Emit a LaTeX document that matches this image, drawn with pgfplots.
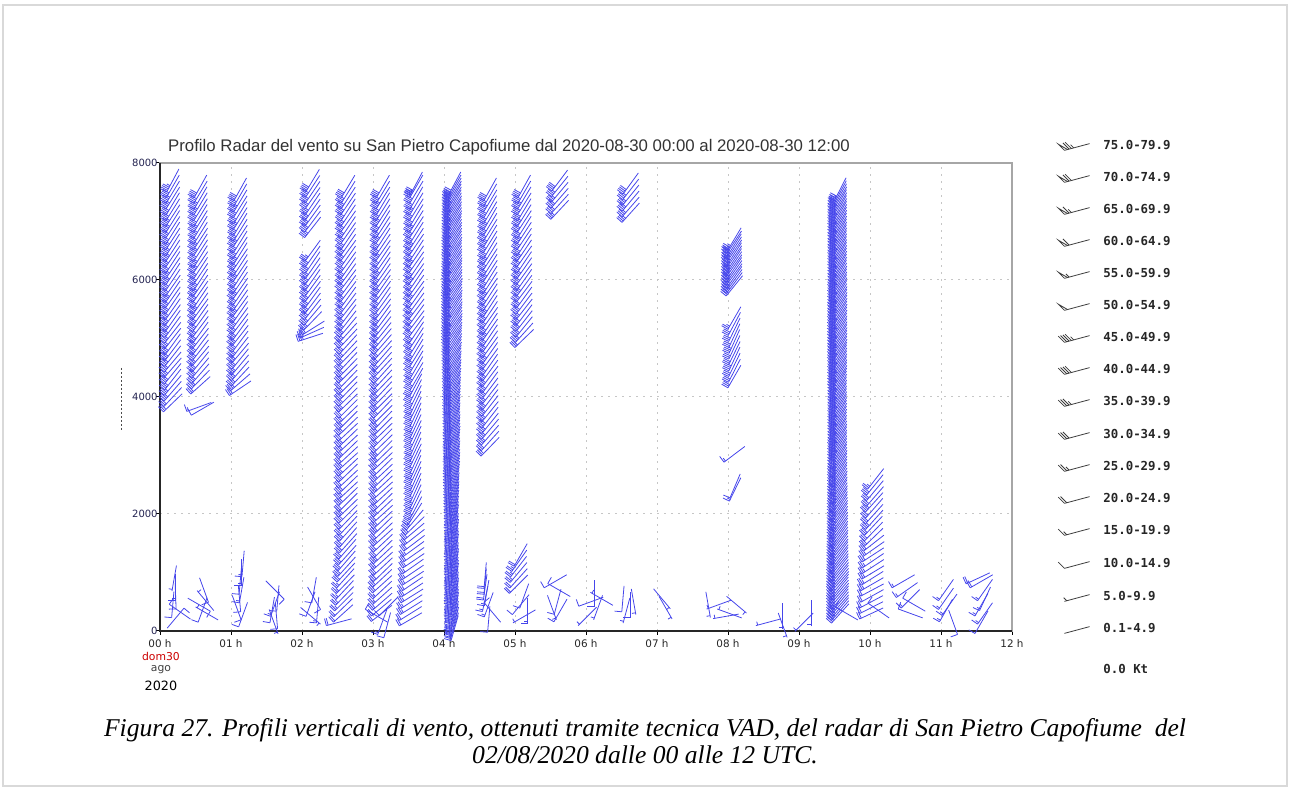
\documentclass[border=0pt]{standalone}
\usepackage{fontspec}
\setmainfont{DejaVu Sans}
\newfontfamily\titlefont{Liberation Sans}
\newfontfamily\capfont{Liberation Serif}
\newfontfamily\legfont{DejaVu Sans Mono}
\newfontfamily\tickfont{DejaVu Sans}
\usepackage{pgfplots}
\usepackage{pgfplotstable}
\pgfplotsset{compat=1.18}

\definecolor{barbblue}{RGB}{70,70,235}
\definecolor{leggray}{RGB}{60,60,60}
\definecolor{navytick}{RGB}{35,35,80}

% wind barb: \bdir = direction (deg, from), \bspd = speed (kt)
% #1 colour, #2 feather length (pt), #3 feather angle to staff, #4 feather spacing (pt)
\newcommand\drawbarb[4]{%
  \pgfscope
  \pgfsetstrokecolor{#1}%
  \pgfsetlinewidth{0.4pt}%
  \pgfmathsetmacro\bth{270-\bdir}%
  \pgftransformrotate{\bth}%
  \pgfmathsetmacro\bfx{#2*cos(#3)}%
  \pgfmathsetmacro\bfy{#2*sin(#3)}%
  \pgfmathtruncatemacro\bh{\bspd/5}%
  \pgfmathtruncatemacro\bnp{\bh/10}%
  \pgfmathtruncatemacro\bnf{(\bh-10*\bnp)/2}%
  \pgfmathtruncatemacro\bnh{\bh-10*\bnp-2*\bnf}%
  \pgfpathmoveto{\pgfqpoint{-6.5pt}{0pt}}%
  \pgfpathlineto{\pgfqpoint{6.5pt}{0pt}}%
  \pgfusepathqstroke
  \ifnum\bnp>0
    \foreach \k in {1,...,\bnp}{%
      \pgfmathsetmacro\bp{-6.5+(\k-1)*2*#4}%
      \pgfpathmoveto{\pgfpoint{\bp pt}{0pt}}%
      \pgfpathlineto{\pgfpoint{\bp pt+\bfx pt}{\bfy pt}}%
      \pgfpathlineto{\pgfpoint{\bp pt+1.6pt}{0pt}}%
      \pgfusepathqstroke}%
  \fi
  \ifnum\bnf>0
    \foreach \k in {1,...,\bnf}{%
      \pgfmathsetmacro\bp{-6.5+\bnp*2*#4+(\k-1)*#4}%
      \pgfpathmoveto{\pgfpoint{\bp pt}{0pt}}%
      \pgfpathlineto{\pgfpoint{\bp pt+\bfx pt}{\bfy pt}}%
      \pgfusepathqstroke}%
  \fi
  \ifnum\bnh>0
    \pgfmathsetmacro\bp{-6.5+\bnp*2*#4+\bnf*#4+((\bnp+\bnf)==0 ? #4 : 0)}%
    \pgfpathmoveto{\pgfpoint{\bp pt}{0pt}}%
    \pgfpathlineto{\pgfpoint{\bp pt+0.5*\bfx pt}{0.5*\bfy pt}}%
    \pgfusepathqstroke
  \fi
  \endpgfscope}
\pgfdeclareplotmark{barb}{\drawbarb{barbblue}{3.6}{90}{0.9}}
\pgfdeclareplotmark{lbarb}{\drawbarb{leggray}{4.4}{120}{1.2}}

\pgfplotsset{barbs/.style={only marks, scatter, mark=barb, point meta=y,
  visualization depends on={\thisrow{d}\as\bdir},
  visualization depends on={\thisrow{s}\as\bspd},
  scatter/@pre marker code/.code={}, scatter/@post marker code/.code={}}}

% columns: x [h]  y [m]  d [deg]  s [kt]
\pgfplotstableread[row sep=\\]{x y d s\\
0.18 3900 226 30\\ 0.18 4000 223 30\\ 0.18 4100 221 35\\ 0.18 4200 220 35\\ 0.18 4300 218 35\\ 0.18 4400 219 40\\
0.18 4500 221 35\\ 0.18 4600 220 35\\ 0.18 4700 218 40\\ 0.18 4800 217 40\\ 0.18 4900 216 40\\ 0.18 5000 218 35\\
0.18 5100 218 35\\ 0.18 5200 216 40\\ 0.18 5300 215 40\\ 0.18 5400 216 40\\ 0.18 5500 215 40\\ 0.18 5600 214 40\\
0.18 5700 215 40\\ 0.18 5800 214 45\\ 0.18 5900 215 40\\ 0.18 6000 214 40\\ 0.18 6100 213 45\\ 0.18 6200 214 45\\
0.18 6300 213 40\\ 0.18 6400 214 40\\ 0.18 6500 213 45\\ 0.18 6600 212 45\\ 0.18 6700 213 45\\ 0.18 6800 212 40\\
0.18 6900 213 40\\ 0.18 7000 212 45\\ 0.18 7100 213 45\\ 0.18 7200 212 40\\ 0.18 7300 211 40\\ 0.18 7400 212 45\\
0.18 7500 211 45\\ 0.18 7600 210 40\\ 0.18 7700 208 45\\
}\colA
\pgfplotstableread[row sep=\\]{x y d s\\
0.57 4200 228 30\\ 0.57 4300 224 35\\ 0.57 4400 221 35\\ 0.57 4500 220 40\\ 0.57 4600 219 40\\ 0.57 4700 220 35\\
0.57 4800 218 40\\ 0.57 4900 217 40\\ 0.57 5000 218 40\\ 0.57 5100 216 40\\ 0.57 5200 217 35\\ 0.57 5300 216 40\\
0.57 5400 215 40\\ 0.57 5500 216 40\\ 0.57 5600 215 45\\ 0.57 5700 214 40\\ 0.57 5800 215 40\\ 0.57 5900 214 45\\
0.57 6000 213 45\\ 0.57 6100 214 40\\ 0.57 6200 213 40\\ 0.57 6300 214 45\\ 0.57 6400 212 45\\ 0.57 6500 213 40\\
0.57 6600 212 45\\ 0.57 6700 213 45\\ 0.57 6800 212 40\\ 0.57 6900 211 45\\ 0.57 7000 212 45\\ 0.57 7100 211 40\\
0.57 7200 212 40\\ 0.57 7300 211 45\\ 0.57 7400 210 45\\ 0.57 7500 211 40\\ 0.57 7600 209 40\\
0.55 3830 250 15\\ 0.60 3800 240 10\\
}\colB
\pgfplotstableread[row sep=\\]{x y d s\\
1.13 4150 236 30\\ 1.13 4250 229 35\\ 1.13 4350 223 35\\ 1.13 4450 221 40\\ 1.13 4550 220 35\\ 1.13 4650 219 40\\
1.13 4750 220 40\\ 1.13 4850 218 35\\ 1.13 4950 217 40\\ 1.13 5050 218 40\\ 1.13 5150 216 40\\ 1.13 5250 217 35\\
1.13 5350 216 40\\ 1.13 5450 215 40\\ 1.13 5550 216 45\\ 1.13 5650 215 40\\ 1.13 5750 214 40\\ 1.13 5850 215 45\\
1.13 5950 214 40\\ 1.13 6050 213 40\\ 1.13 6150 214 45\\ 1.13 6250 213 40\\ 1.13 6350 214 40\\ 1.13 6450 212 45\\
1.13 6550 213 40\\ 1.13 6650 212 40\\ 1.13 6750 213 45\\ 1.13 6850 212 40\\ 1.13 6950 211 40\\ 1.13 7050 212 45\\
1.13 7150 211 40\\ 1.13 7250 212 40\\ 1.13 7350 211 45\\ 1.13 7450 210 40\\ 1.13 7550 209 40\\
}\colC
\pgfplotstableread[row sep=\\]{x y d s\\
2.12 5020 252 35\\ 2.14 5100 246 30\\ 2.16 5180 238 30\\
2.15 5300 224 35\\ 2.15 5400 220 35\\ 2.15 5500 218 40\\ 2.15 5600 217 40\\ 2.15 5700 216 40\\ 2.15 5800 217 35\\
2.15 5900 216 40\\ 2.15 6000 215 40\\ 2.15 6100 216 40\\ 2.15 6200 215 35\\ 2.15 6300 214 40\\ 2.15 6400 215 40\\
2.15 6500 216 35\\
2.15 6900 218 35\\ 2.15 7000 217 40\\ 2.15 7100 216 40\\ 2.15 7200 215 40\\ 2.15 7300 214 35\\ 2.15 7400 215 40\\
2.15 7500 214 40\\ 2.15 7600 213 40\\ 2.15 7700 211 40\\
}\colD
\pgfplotstableread[row sep=\\]{x y d s\\
2.52 150 255 20\\
2.58 300 228 20\\ 2.58 400 226 20\\ 2.59 500 225 25\\ 2.60 600 224 25\\ 2.60 700 223 25\\ 2.61 800 224 25\\
2.61 900 222 25\\ 2.62 1000 223 30\\ 2.63 1100 222 30\\ 2.63 1200 221 30\\ 2.64 1300 222 30\\ 2.64 1400 221 30\\
2.65 1500 222 30\\ 2.65 1600 221 30\\ 2.65 1700 222 35\\ 2.65 1800 223 30\\ 2.65 1900 224 30\\ 2.65 2000 225 35\\
2.65 2100 226 35\\ 2.65 2200 225 30\\ 2.65 2300 226 35\\ 2.65 2400 227 35\\ 2.65 2500 226 35\\ 2.65 2600 227 30\\
2.65 2700 226 35\\ 2.65 2800 227 35\\ 2.65 2900 228 35\\ 2.65 3000 227 30\\ 2.65 3100 226 35\\ 2.65 3200 227 35\\
2.65 3300 226 35\\ 2.65 3400 227 30\\ 2.65 3500 226 35\\ 2.65 3600 225 35\\ 2.65 3700 226 35\\ 2.65 3800 225 30\\
2.65 3900 226 35\\ 2.65 4000 225 35\\ 2.65 4100 224 35\\ 2.65 4200 225 35\\ 2.65 4300 224 30\\ 2.65 4400 225 35\\
2.65 4500 224 35\\ 2.65 4600 223 35\\ 2.65 4700 224 35\\ 2.65 4800 223 35\\ 2.65 4900 222 35\\ 2.65 5000 223 40\\
2.65 5100 222 35\\ 2.65 5200 220 40\\ 2.65 5300 218 40\\ 2.65 5400 217 40\\ 2.65 5500 218 35\\ 2.65 5600 217 40\\
2.65 5700 216 40\\ 2.65 5800 217 40\\ 2.65 5900 216 35\\ 2.65 6000 217 40\\ 2.65 6100 216 40\\ 2.65 6200 215 40\\
2.65 6300 216 35\\ 2.65 6400 215 40\\ 2.65 6500 216 40\\ 2.65 6600 215 40\\ 2.65 6700 214 35\\ 2.65 6800 215 40\\
2.65 6900 214 40\\ 2.65 7000 215 40\\ 2.65 7100 214 35\\ 2.65 7200 213 40\\ 2.65 7300 214 40\\ 2.65 7400 213 40\\
2.65 7500 212 35\\ 2.65 7600 211 40\\
}\colE
\pgfplotstableread[row sep=\\]{x y d s\\
3.05 260 300 10\\ 3.13 150 200 15\\ 3.20 100 195 10\\ 3.22 420 225 10\\
3.12 300 232 20\\ 3.12 400 230 20\\ 3.13 500 229 25\\ 3.13 600 228 25\\ 3.13 700 227 25\\ 3.13 800 228 30\\
3.13 900 227 30\\ 3.14 1000 226 30\\ 3.14 1100 227 30\\ 3.14 1200 228 30\\ 3.14 1300 227 35\\ 3.14 1400 226 30\\
3.14 1500 227 30\\ 3.14 1600 228 35\\ 3.14 1700 227 30\\ 3.14 1800 226 35\\ 3.14 1900 227 35\\ 3.14 2000 228 30\\
3.14 2100 227 35\\ 3.14 2200 226 35\\ 3.14 2300 227 35\\ 3.14 2400 228 30\\ 3.14 2500 227 35\\ 3.14 2600 226 35\\
3.14 2700 227 35\\ 3.14 2800 226 30\\ 3.14 2900 227 35\\ 3.14 3000 226 35\\ 3.14 3100 225 35\\ 3.14 3200 226 30\\
3.14 3300 225 35\\ 3.14 3400 226 35\\ 3.14 3500 225 35\\ 3.14 3600 224 35\\ 3.14 3700 225 30\\ 3.14 3800 224 35\\
3.14 3900 225 35\\ 3.14 4000 224 35\\ 3.14 4100 223 35\\ 3.14 4200 224 35\\ 3.14 4300 223 35\\ 3.14 4400 222 35\\
3.14 4500 223 40\\ 3.14 4600 222 35\\ 3.14 4700 221 40\\ 3.14 4800 222 35\\ 3.14 4900 221 40\\ 3.14 5000 220 40\\
3.14 5100 219 40\\ 3.14 5200 218 40\\ 3.14 5300 217 40\\ 3.14 5400 216 40\\ 3.14 5500 217 35\\ 3.14 5600 216 40\\
3.14 5700 215 40\\ 3.14 5800 216 40\\ 3.14 5900 215 45\\ 3.14 6000 216 40\\ 3.14 6100 215 40\\ 3.14 6200 214 45\\
3.14 6300 215 40\\ 3.14 6400 214 40\\ 3.14 6500 215 45\\ 3.14 6600 214 40\\ 3.14 6700 213 40\\ 3.14 6800 214 45\\
3.14 6900 213 40\\ 3.14 7000 212 40\\ 3.14 7100 213 45\\ 3.14 7200 212 40\\ 3.14 7300 211 40\\ 3.14 7400 212 45\\
3.14 7500 211 40\\ 3.14 7600 210 40\\
}\colF
\pgfplotstableread[row sep=\\]{x y d s\\
3.53 200 240 20\\ 3.53 300 238 20\\ 3.54 400 238 25\\ 3.54 500 237 25\\ 3.55 600 238 25\\ 3.55 700 237 25\\
3.55 800 236 25\\ 3.56 900 237 25\\ 3.56 1000 236 25\\ 3.56 1100 235 25\\ 3.57 1200 236 25\\ 3.57 1300 235 30\\
3.57 1400 234 25\\ 3.58 1500 233 30\\ 3.58 1600 232 30\\ 3.58 1700 230 30\\ 3.59 1800 226 30\\ 3.59 1900 220 35\\
3.59 2000 212 35\\ 3.60 2100 208 35\\ 3.60 2200 206 35\\ 3.60 2300 205 35\\ 3.60 2400 204 35\\ 3.60 2500 205 35\\
3.60 2600 204 35\\ 3.60 2700 205 40\\ 3.60 2800 204 35\\ 3.60 2900 205 35\\ 3.60 3000 206 35\\ 3.60 3100 205 40\\
3.60 3200 204 35\\ 3.60 3300 205 35\\ 3.60 3400 206 35\\ 3.60 3500 205 40\\ 3.60 3600 204 35\\ 3.60 3700 205 35\\
3.60 3800 206 40\\ 3.60 3900 205 35\\ 3.60 4000 206 35\\ 3.60 4100 207 40\\ 3.60 4200 208 35\\ 3.61 4300 210 35\\
3.61 4400 211 40\\ 3.61 4500 210 35\\ 3.61 4600 211 35\\ 3.61 4700 212 40\\ 3.61 4800 211 35\\ 3.61 4900 212 40\\
3.61 5000 213 40\\ 3.61 5100 214 35\\ 3.61 5200 216 40\\ 3.61 5300 217 40\\ 3.61 5400 216 40\\ 3.61 5500 217 45\\
3.61 5600 216 40\\ 3.61 5700 215 40\\ 3.61 5800 216 45\\ 3.61 5900 215 40\\ 3.61 6000 214 40\\ 3.61 6100 215 45\\
3.61 6200 214 40\\ 3.61 6300 215 40\\ 3.61 6400 214 45\\ 3.61 6500 213 40\\ 3.61 6600 214 40\\ 3.61 6700 213 45\\
3.61 6800 212 40\\ 3.61 6900 213 40\\ 3.61 7000 212 45\\ 3.61 7100 211 40\\ 3.61 7200 212 40\\ 3.61 7300 211 45\\
3.61 7400 210 40\\ 3.61 7500 211 40\\ 3.61 7600 210 45\\ 3.61 7650 208 40\\
}\colG
\pgfplotstableread[row sep=\\]{x y d s\\
4.15 50 196 25\\ 4.15 100 197 30\\ 4.15 150 195 30\\ 4.15 200 198 30\\ 4.15 250 196 25\\ 4.15 300 197 30\\ 4.15 350 195 30\\ 4.15 400 196 35\\
4.15 450 198 30\\ 4.15 500 197 30\\ 4.15 550 196 30\\ 4.15 600 195 35\\ 4.15 650 197 30\\ 4.15 700 198 30\\ 4.15 750 196 35\\ 4.15 800 197 30\\
4.15 850 195 30\\ 4.15 900 196 35\\ 4.15 950 198 35\\ 4.15 1000 197 30\\ 4.15 1050 196 35\\ 4.15 1100 195 35\\ 4.15 1150 197 30\\ 4.15 1200 198 35\\
4.15 1250 196 35\\ 4.15 1300 197 30\\ 4.15 1350 195 35\\ 4.15 1400 196 35\\ 4.15 1450 198 30\\ 4.15 1500 197 35\\ 4.15 1550 196 35\\ 4.15 1600 195 30\\
4.15 1650 197 35\\ 4.15 1700 198 35\\ 4.15 1750 196 30\\ 4.15 1800 197 35\\ 4.15 1850 195 35\\ 4.15 1900 196 30\\ 4.15 1950 198 35\\ 4.15 2000 197 35\\
4.15 2050 196 30\\ 4.15 2100 198 35\\ 4.15 2150 197 35\\ 4.15 2200 199 30\\ 4.15 2250 198 35\\ 4.15 2300 199 35\\ 4.15 2350 200 30\\ 4.15 2400 199 35\\
4.15 2450 200 35\\ 4.15 2500 201 30\\ 4.15 2550 200 35\\ 4.15 2600 201 35\\
4.15 2650 202 35\\ 4.15 2700 203 35\\ 4.15 2750 202 40\\ 4.15 2800 203 35\\ 4.15 2850 204 35\\ 4.15 2900 203 40\\ 4.15 2950 202 35\\ 4.15 3000 203 35\\
4.15 3050 204 40\\ 4.15 3100 203 35\\ 4.15 3150 202 35\\ 4.15 3200 203 40\\ 4.15 3250 204 35\\ 4.15 3300 205 35\\ 4.15 3350 204 40\\ 4.15 3400 203 35\\
4.15 3450 204 35\\ 4.15 3500 205 40\\ 4.15 3550 204 35\\ 4.15 3600 203 35\\ 4.15 3650 204 40\\ 4.15 3700 205 35\\ 4.15 3750 204 35\\ 4.15 3800 205 40\\
4.15 3850 206 35\\ 4.15 3900 205 35\\ 4.15 3950 206 40\\ 4.15 4000 207 35\\ 4.15 4050 206 40\\ 4.15 4100 207 40\\ 4.15 4150 208 35\\ 4.15 4200 207 40\\
4.15 4250 208 40\\ 4.15 4300 209 35\\ 4.15 4350 208 40\\ 4.15 4400 209 40\\ 4.15 4450 210 35\\ 4.15 4500 209 40\\ 4.15 4550 210 40\\ 4.15 4600 211 35\\
4.15 4650 210 40\\ 4.15 4700 211 40\\ 4.15 4750 212 35\\ 4.15 4800 211 40\\ 4.15 4850 212 40\\ 4.15 4900 213 40\\ 4.15 4950 212 40\\ 4.15 5000 213 40\\
4.15 5050 214 40\\ 4.15 5100 215 40\\ 4.15 5150 214 45\\ 4.15 5200 215 40\\ 4.15 5250 216 40\\ 4.15 5300 215 45\\ 4.15 5350 214 40\\ 4.15 5400 215 40\\
4.15 5450 216 45\\ 4.15 5500 215 40\\ 4.15 5550 214 40\\ 4.15 5600 215 45\\ 4.15 5650 216 40\\ 4.15 5700 215 40\\ 4.15 5750 214 45\\ 4.15 5800 215 40\\
4.15 5850 216 40\\ 4.15 5900 215 45\\ 4.15 5950 214 40\\ 4.15 6000 215 40\\ 4.15 6050 214 45\\ 4.15 6100 213 40\\ 4.15 6150 214 40\\ 4.15 6200 215 45\\
4.15 6250 214 40\\ 4.15 6300 213 40\\ 4.15 6350 214 45\\ 4.15 6400 213 40\\ 4.15 6450 212 40\\ 4.15 6500 213 45\\ 4.15 6550 214 40\\ 4.15 6600 213 40\\
4.15 6650 212 45\\ 4.15 6700 213 40\\ 4.15 6750 212 40\\ 4.15 6800 213 45\\ 4.15 6850 212 40\\ 4.15 6900 211 40\\ 4.15 6950 212 45\\ 4.15 7000 213 40\\
4.15 7050 212 40\\ 4.15 7100 211 45\\ 4.15 7150 212 40\\ 4.15 7200 211 40\\ 4.15 7250 212 45\\ 4.15 7300 211 40\\ 4.15 7350 210 40\\ 4.15 7400 211 45\\
4.15 7450 210 40\\ 4.15 7500 211 40\\ 4.15 7550 210 45\\ 4.15 7600 209 40\\ 4.15 7650 208 40\\
}\colH
\pgfplotstableread[row sep=\\]{x y d s\\
4.65 3150 224 30\\ 4.65 3250 222 30\\ 4.65 3350 221 35\\ 4.65 3450 220 35\\ 4.65 3550 219 35\\ 4.65 3650 218 40\\
4.65 3750 219 35\\ 4.65 3850 218 40\\ 4.65 3950 217 40\\ 4.65 4050 218 35\\ 4.65 4150 217 40\\ 4.65 4250 216 40\\
4.65 4350 217 40\\ 4.65 4450 216 40\\ 4.65 4550 215 40\\ 4.65 4650 216 40\\ 4.65 4750 215 45\\ 4.65 4850 216 40\\
4.65 4950 215 40\\ 4.65 5050 214 40\\ 4.65 5150 215 45\\ 4.65 5250 214 40\\ 4.65 5350 215 40\\ 4.65 5450 214 40\\
4.65 5550 213 45\\ 4.65 5650 214 40\\ 4.65 5750 213 40\\ 4.65 5850 214 45\\ 4.65 5950 213 40\\ 4.65 6050 212 40\\
4.65 6150 213 45\\ 4.65 6250 212 40\\ 4.65 6350 213 40\\ 4.65 6450 212 45\\ 4.65 6550 211 40\\ 4.65 6650 212 40\\
4.65 6750 211 45\\ 4.65 6850 212 40\\ 4.65 6950 211 40\\ 4.65 7050 210 45\\ 4.65 7150 211 40\\ 4.65 7250 210 40\\
4.65 7350 211 45\\ 4.65 7450 210 40\\ 4.65 7550 209 40\\
}\colI
\pgfplotstableread[row sep=\\]{x y d s\\
5.13 5000 226 30\\ 5.13 5100 222 35\\ 5.13 5200 219 35\\ 5.13 5300 218 40\\ 5.13 5400 217 40\\ 5.13 5500 218 35\\
5.13 5600 217 40\\ 5.13 5700 216 40\\ 5.13 5800 217 40\\ 5.13 5900 216 45\\ 5.13 6000 215 40\\ 5.13 6100 216 40\\
5.13 6200 215 45\\ 5.13 6300 214 40\\ 5.13 6400 215 40\\ 5.13 6500 214 45\\ 5.13 6600 213 40\\ 5.13 6700 214 40\\
5.13 6800 213 45\\ 5.13 6900 212 40\\ 5.13 7000 213 40\\ 5.13 7100 212 45\\ 5.13 7200 211 40\\ 5.13 7300 212 40\\
5.13 7400 211 45\\ 5.13 7500 210 40\\ 5.13 7600 209 40\\
5.63 7200 223 35\\ 5.63 7300 222 35\\ 5.63 7400 221 40\\ 5.63 7500 220 35\\ 5.63 7600 219 35\\ 5.63 7700 217 40\\
6.63 7150 222 35\\ 6.63 7250 221 35\\ 6.63 7350 220 40\\ 6.63 7450 219 35\\ 6.63 7550 218 35\\ 6.63 7650 216 40\\
}\colJKL
\pgfplotstableread[row sep=\\]{x y d s\\
8.09 5900 219 30\\ 8.09 5950 217 35\\ 8.09 6000 216 35\\ 8.09 6050 215 35\\ 8.09 6100 216 35\\ 8.09 6150 215 40\\
8.09 6200 214 35\\ 8.09 6250 215 35\\ 8.09 6300 214 40\\ 8.09 6350 213 35\\ 8.09 6400 214 35\\ 8.09 6450 213 40\\
8.09 6500 214 35\\ 8.09 6550 213 35\\ 8.09 6600 212 40\\ 8.09 6650 213 35\\ 8.09 6700 211 35\\
8.09 4350 210 30\\ 8.09 4450 207 30\\ 8.09 4550 206 30\\ 8.09 4650 205 35\\ 8.09 4750 206 30\\ 8.09 4850 205 30\\
8.09 4950 204 35\\ 8.09 5050 205 30\\ 8.09 5150 206 30\\ 8.09 5250 208 30\\ 8.09 5350 210 25\\
8.09 3020 233 15\\ 8.10 2420 206 15\\ 8.10 2480 203 10\\
}\colM
\pgfplotstableread[row sep=\\]{x y d s\\
9.58 300 222 30\\ 9.58 350 221 35\\ 9.58 400 220 35\\ 9.58 450 221 40\\ 9.58 500 220 35\\ 9.58 550 219 35\\ 9.58 600 220 40\\ 9.58 650 221 35\\
9.58 700 220 35\\ 9.58 750 219 40\\ 9.58 800 220 35\\ 9.58 850 221 35\\ 9.58 900 220 40\\ 9.58 950 219 35\\ 9.58 1000 220 35\\ 9.58 1050 219 40\\
9.58 1100 218 35\\ 9.58 1150 219 35\\ 9.58 1200 218 40\\ 9.58 1250 217 35\\ 9.58 1300 218 35\\ 9.58 1350 217 40\\ 9.58 1400 218 35\\ 9.58 1450 217 35\\
9.58 1500 216 40\\ 9.58 1550 217 35\\ 9.58 1600 216 35\\ 9.58 1650 215 40\\ 9.58 1700 216 35\\ 9.58 1750 215 35\\ 9.58 1800 216 40\\ 9.58 1850 215 35\\
9.58 1900 214 35\\ 9.58 1950 215 40\\ 9.58 2000 214 35\\ 9.58 2050 215 35\\ 9.58 2100 214 40\\ 9.58 2150 213 35\\ 9.58 2200 214 35\\ 9.58 2250 213 40\\
9.58 2300 214 35\\ 9.58 2350 213 35\\ 9.58 2400 212 40\\ 9.58 2450 213 35\\ 9.58 2500 212 35\\ 9.58 2550 213 40\\ 9.58 2600 212 35\\ 9.58 2650 211 35\\
9.58 2700 212 40\\ 9.58 2750 211 35\\ 9.58 2800 212 35\\ 9.58 2850 211 40\\ 9.58 2900 212 35\\ 9.58 2950 211 35\\ 9.58 3000 210 40\\ 9.58 3050 211 40\\
9.58 3100 210 40\\ 9.58 3150 211 45\\ 9.58 3200 210 40\\ 9.58 3250 211 40\\ 9.58 3300 210 45\\ 9.58 3350 211 40\\ 9.58 3400 210 40\\ 9.58 3450 209 45\\
9.58 3500 210 40\\ 9.58 3550 209 40\\ 9.58 3600 210 45\\ 9.58 3650 209 40\\ 9.58 3700 210 40\\ 9.58 3750 209 45\\ 9.58 3800 210 40\\ 9.58 3850 209 40\\
9.58 3900 210 45\\ 9.58 3950 209 40\\ 9.58 4000 210 40\\ 9.58 4050 209 45\\ 9.58 4100 210 40\\ 9.58 4150 209 40\\ 9.58 4200 210 45\\ 9.58 4250 209 40\\
9.58 4300 210 40\\ 9.58 4350 211 45\\ 9.58 4400 210 40\\ 9.58 4450 211 40\\ 9.58 4500 210 45\\ 9.58 4550 211 40\\ 9.58 4600 210 40\\ 9.58 4650 211 45\\
9.58 4700 210 40\\ 9.58 4750 211 40\\ 9.58 4800 212 45\\ 9.58 4850 211 40\\ 9.58 4900 212 40\\ 9.58 4950 211 45\\ 9.58 5000 212 40\\ 9.58 5050 211 40\\
9.58 5100 212 45\\ 9.58 5150 211 40\\ 9.58 5200 212 40\\ 9.58 5250 211 45\\ 9.58 5300 212 40\\ 9.58 5350 211 40\\ 9.58 5400 212 45\\ 9.58 5450 211 40\\
9.58 5500 212 40\\ 9.58 5550 211 45\\ 9.58 5600 212 40\\ 9.58 5650 211 40\\ 9.58 5700 212 45\\ 9.58 5750 211 40\\ 9.58 5800 210 40\\ 9.58 5850 211 45\\
9.58 5900 210 40\\ 9.58 5950 211 40\\ 9.58 6000 210 45\\ 9.58 6050 211 40\\ 9.58 6100 210 40\\ 9.58 6150 209 45\\ 9.58 6200 210 40\\ 9.58 6250 209 40\\
9.58 6300 210 45\\ 9.58 6350 209 40\\ 9.58 6400 210 40\\ 9.58 6450 209 45\\ 9.58 6500 210 40\\ 9.58 6550 209 40\\ 9.58 6600 210 45\\ 9.58 6650 209 40\\
9.58 6700 210 40\\ 9.58 6750 209 45\\ 9.58 6800 210 40\\ 9.58 6850 209 40\\ 9.58 6900 210 45\\ 9.58 6950 209 40\\ 9.58 7000 210 40\\ 9.58 7050 209 45\\
9.58 7100 210 40\\ 9.58 7150 209 40\\ 9.58 7200 210 45\\ 9.58 7250 209 40\\ 9.58 7300 210 40\\ 9.58 7350 209 45\\ 9.58 7400 210 40\\ 9.58 7450 209 40\\
9.58 7500 208 45\\ 9.58 7550 207 40\\
}\colN
\pgfplotstableread[row sep=\\]{x y d s\\
10.02 300 245 20\\ 10.02 400 243 20\\ 10.02 500 242 20\\ 10.03 600 241 20\\ 10.03 700 242 20\\ 10.03 800 240 25\\
10.03 900 238 25\\ 10.04 1000 239 25\\ 10.04 1100 237 25\\ 10.04 1200 236 25\\ 10.04 1300 237 25\\ 10.05 1400 235 25\\
10.05 1500 232 30\\ 10.05 1600 226 30\\ 10.05 1700 224 30\\ 10.05 1800 223 30\\ 10.06 1900 222 35\\ 10.06 2000 222 30\\
10.06 2100 221 30\\ 10.06 2200 222 35\\ 10.07 2300 221 30\\ 10.07 2400 220 30\\ 10.07 2500 219 30\\ 10.08 2600 218 25\\
}\colO
% low-level, variable winds
\pgfplotstableread[row sep=\\]{x y d s\\
0.20 900 190 5\\ 0.22 750 180 15\\ 0.22 600 178 10\\ 0.18 450 185 10\\ 0.28 330 305 10\\ 0.22 220 40 10\\
0.62 700 160 10\\ 0.64 520 320 5\\ 0.55 450 120 10\\ 0.60 360 200 10\\ 0.66 300 300 5\\
1.17 1150 185 15\\ 1.15 1000 180 15\\ 1.13 850 185 10\\ 1.15 700 190 15\\ 1.12 550 175 10\\ 1.08 400 160 10\\ 1.17 280 200 10\\
1.62 700 135 10\\ 1.66 560 185 10\\ 1.62 460 200 15\\ 1.58 360 190 10\\ 1.64 260 175 10\\ 1.60 160 160 5\\
2.17 700 190 10\\ 2.17 560 150 10\\ 2.12 460 200 10\\ 2.22 360 185 15\\ 2.12 260 130 5\\
4.58 950 185 20\\ 4.58 850 185 20\\ 4.58 750 188 20\\ 4.60 650 190 15\\ 4.58 550 192 15\\ 4.63 450 200 15\\ 4.68 320 320 10\\ 4.63 200 185 10\\
5.05 800 225 20\\ 5.05 900 222 20\\ 5.05 1000 220 25\\ 5.05 1100 218 25\\ 5.06 1200 215 25\\ 5.08 1300 210 20\\
5.13 600 200 10\\ 5.08 450 220 10\\ 5.18 350 180 15\\ 5.13 250 240 5\\
5.57 850 240 10\\ 5.62 700 300 10\\ 5.60 500 195 10\\ 5.52 400 160 5\\ 5.64 350 210 10\\
6.12 650 180 10\\ 6.07 500 250 10\\ 6.17 400 200 5\\ 6.02 250 225 5\\ 6.22 550 300 5\\
6.52 550 185 10\\ 6.62 450 180 10\\ 6.57 350 195 5\\ 6.67 500 170 5\\
7.07 550 140 5\\ 7.12 400 150 5\\
7.72 450 170 5\\ 7.87 450 250 5\\ 8.02 300 290 5\\ 8.12 450 130 5\\ 7.97 250 260 5\\
8.57 150 255 5\\ 8.77 250 180 5\\ 8.77 100 160 5\\ 9.07 150 225 5\\ 9.17 300 180 5\\
9.67 300 300 10\\ 10.12 350 305 10\\
10.47 850 240 15\\ 10.52 700 235 15\\ 10.57 550 225 15\\ 10.62 450 300 10\\ 10.57 300 290 10\\
11.07 700 215 15\\ 11.07 550 215 15\\ 11.12 450 215 15\\ 11.07 350 210 15\\ 11.17 150 160 10\\
11.52 900 245 20\\ 11.57 850 240 20\\ 11.62 700 215 15\\ 11.62 550 205 15\\ 11.57 450 210 15\\ 11.62 300 215 15\\ 11.57 150 210 10\\
}\lowtab
% legend glyphs (page pixel coordinates)
\pgfplotstableread[row sep=\\]{x y d s\\
1077 147 255 77\\ 1077 179 255 72\\ 1077 211 255 67\\ 1077 243 255 62\\ 1077 275 255 57\\ 1077 307 255 52\\
1077 339 255 47\\ 1077 371 255 42\\ 1077 403 255 37\\ 1077 436 255 32\\ 1077 468 255 27\\ 1077 500 255 22\\
1077 532 255 17\\ 1077 565 255 12\\ 1077 598 255 7\\ 1077 630 255 2\\
}\legtab

\newcommand\legnode[2]{\node[font=\legfont\bfseries\fontsize{6.2}{7}\selectfont, text=black!85,
  anchor=west, inner sep=0pt] at (axis cs:1103,#1) {#2};}

\begin{document}
\begin{tikzpicture}
\begin{axis}[name=page, hide axis, scale only axis, width=645pt, height=395pt,
  xmin=0, xmax=1290, ymin=0, ymax=790, y dir=reverse, clip=false,
  at={(0,0)}, anchor=south west]
\path (axis cs:0,0) rectangle (axis cs:1290,790);
\draw[gray!30, line width=0.6pt] (axis cs:3,5) rectangle (axis cs:1287,786);
\coordinate (O) at (axis cs:160,631);
\node[font=\titlefont\fontsize{8.4}{10}\selectfont, text=black!80, anchor=base]
  at (axis cs:509,152) {Profilo Radar del vento su San Pietro Capofiume dal 2020-08-30 00:00 al 2020-08-30 12:00};
\draw[black!70, line width=0.4pt, dash pattern=on 0.8pt off 1.2pt] (axis cs:121,368) -- (axis cs:121,430);
\node[font=\tickfont\fontsize{5.4}{6}\selectfont, text=red!80!black, anchor=base] at (axis cs:161,660) {dom30};
\node[font=\tickfont\fontsize{5.4}{6}\selectfont, text=black!75, anchor=base] at (axis cs:161,671) {ago};
\node[font=\tickfont\fontsize{6.4}{7}\selectfont, text=black, anchor=base] at (axis cs:161,690) {2020};
\addplot[barbs, mark=lbarb] table {\legtab};
\legnode{145}{75.0-79.9}
\legnode{177}{70.0-74.9}
\legnode{209}{65.0-69.9}
\legnode{241}{60.0-64.9}
\legnode{273}{55.0-59.9}
\legnode{305}{50.0-54.9}
\legnode{337}{45.0-49.9}
\legnode{369}{40.0-44.9}
\legnode{401}{35.0-39.9}
\legnode{434}{30.0-34.9}
\legnode{466}{25.0-29.9}
\legnode{498}{20.0-24.9}
\legnode{530}{15.0-19.9}
\legnode{563}{10.0-14.9}
\legnode{596}{5.0-9.9}
\legnode{628}{0.1-4.9}
\legnode{669}{0.0 Kt}
\node[font=\capfont\itshape\fontsize{12.8}{14}\selectfont, anchor=base] at (axis cs:645,736)
  {Figura 27. Profili verticali di vento, ottenuti tramite tecnica VAD, del radar di San Pietro Capofiume~ del};
\node[font=\capfont\itshape\fontsize{12.8}{14}\selectfont, anchor=base] at (axis cs:645,763)
  {02/08/2020 dalle 00 alle 12 UTC.};
\end{axis}

\begin{axis}[at={(O)}, anchor=south west, scale only axis, width=426pt, height=234pt,
  xmin=0, xmax=12, ymin=0, ymax=8000, clip=false,
  xtick={0,...,12},
  xticklabels={00 h,01 h,02 h,03 h,04 h,05 h,06 h,07 h,08 h,09 h,10 h,11 h,12 h},
  ytick={0,2000,4000,6000,8000}, yticklabels={0,2000,4000,6000,8000},
  xtick pos=bottom, ytick pos=left, tick align=outside, major tick length=2pt,
  tick style={black, line width=0.5pt},
  grid=major, grid style={gray!45, line width=0.5pt, dash pattern=on 1pt off 2.5pt},
  axis line style={draw=gray!70, line width=0.9pt},
  xticklabel style={font=\tickfont\fontsize{5.2}{6}\selectfont, text=black!85, inner sep=0pt, anchor=north, yshift=-2pt},
  yticklabel style={font=\tickfont\fontsize{5}{6}\selectfont, text=navytick, inner sep=0pt, anchor=east, xshift=1pt},
]
\addplot[barbs] table {\colA};
\addplot[barbs] table {\colB};
\addplot[barbs] table {\colC};
\addplot[barbs] table {\colD};
\addplot[barbs] table {\colE};
\addplot[barbs] table {\colF};
\addplot[barbs] table {\colG};
\addplot[barbs] table {\colH};
\addplot[barbs] table {\colI};
\addplot[barbs] table {\colJKL};
\addplot[barbs] table {\colM};
\addplot[barbs] table {\colN};
\addplot[barbs] table {\colO};
\addplot[barbs] table {\lowtab};
\draw[black!85, line width=1.2pt] (rel axis cs:0,1) -- (rel axis cs:0,0) -- (rel axis cs:1,0);
\end{axis}
\end{tikzpicture}
\end{document}
